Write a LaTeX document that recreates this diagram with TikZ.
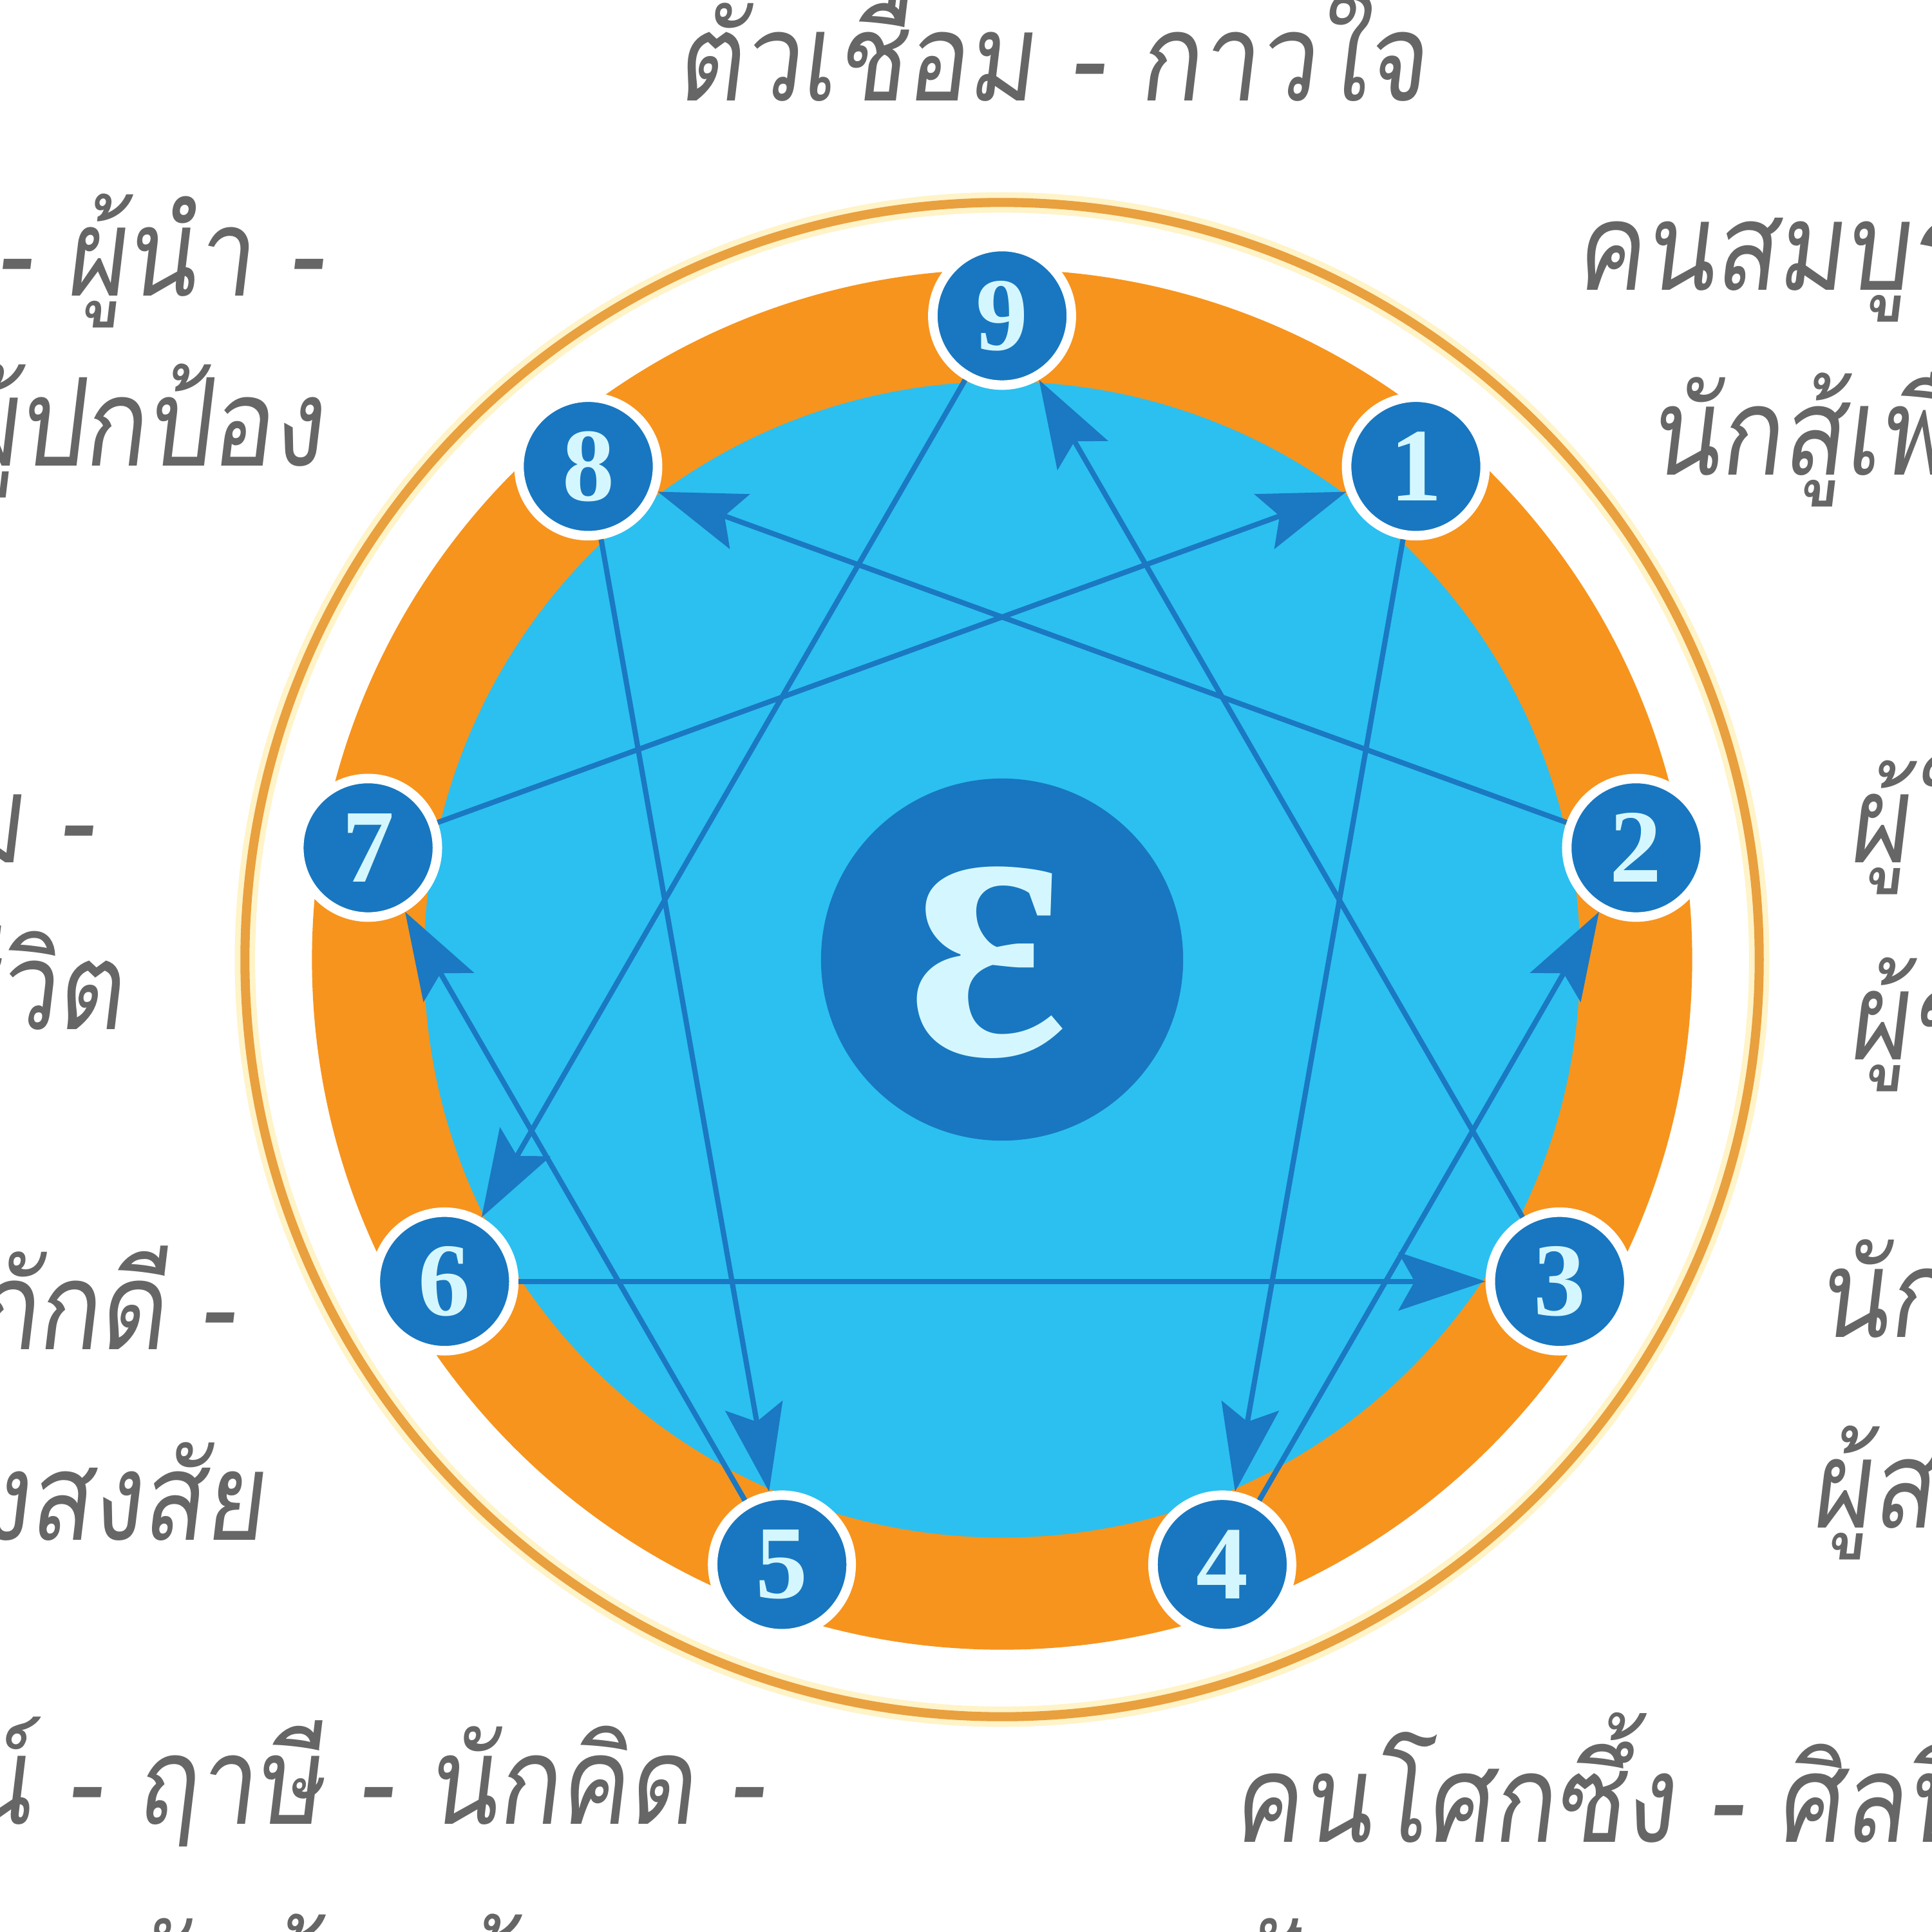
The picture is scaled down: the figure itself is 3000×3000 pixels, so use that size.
\documentclass[tikz,border=0pt]{standalone}
\usepackage{fontspec}
\newfontfamily\thaifont[Script=Thai,FakeSlant=0.12,FakeStretch=0.84]{Loma}
\newfontfamily\numfont{Liberation Serif}
\newfontfamily\epsfont[FakeSlant=-0.16]{Liberation Serif Bold Italic}
\usetikzlibrary{arrows.meta,calc}
\definecolor{ringorange}{HTML}{F7941D}
\definecolor{thinorange}{HTML}{E9A03E}
\definecolor{halo}{HTML}{FFF3C8}
\definecolor{discblue}{HTML}{2BC0F0}
\definecolor{deepblue}{HTML}{1877C0}
\definecolor{arrowblue}{HTML}{1B78C2}
\definecolor{digitcol}{HTML}{D4F7FF}
\definecolor{textgrey}{HTML}{666666}
\tikzset{
  numnode/.style={circle, fill=deepblue, draw=white, line width=4.2pt, minimum size=2.15cm, inner sep=0pt,
    text=digitcol, font=\numfont\bfseries\fontsize{46}{46}\selectfont},
  arr/.style={draw=arrowblue, line width=2.3pt, -{Stealth[length=1.35cm,width=0.9cm,inset=0.25cm]}},
  txt/.style={text=textgrey, inner sep=0pt, font=\thaifont\fontsize{54}{54}\selectfont},
}
\begin{document}
\begin{tikzpicture}[x=0.01cm,y=-0.01cm]
\useasboundingbox (0,0) rectangle (3000,3000);
\clip (0,0) rectangle (3000,3000);
\fill[white] (0,0) rectangle (3000,3000);
\coordinate (C) at (1556,1490);
% rings
\draw[halo, line width=9pt] (C) circle (11.75cm);
\draw[thinorange, line width=4pt] (C) circle (11.75cm);
\fill[ringorange] (C) circle (10.71cm);
\fill[discblue] (C) circle (8.97cm);
% nodes
\node[numnode] (n9) at ($(C)+(90:9.99cm)$) {9};
\node[numnode] (n1) at ($(C)+(50:9.99cm)$) {1};
\node[numnode] (n2) at ($(C)+(10:9.99cm)$) {2};
\node[numnode] (n3) at ($(C)+(-30:9.99cm)$) {3};
\node[numnode] (n4) at ($(C)+(-70:9.99cm)$) {4};
\node[numnode] (n5) at ($(C)+(-110:9.99cm)$) {5};
\node[numnode] (n6) at ($(C)+(-150:9.99cm)$) {6};
\node[numnode] (n7) at ($(C)+(170:9.99cm)$) {7};
\node[numnode] (n8) at ($(C)+(130:9.99cm)$) {8};
% center
\node[circle, fill=deepblue, minimum size=5.62cm, inner sep=0pt] (E) at (C) {};
\node[text=digitcol, inner sep=0pt, font=\epsfont\fontsize{176}{176}\selectfont] (Eps) at ($(C)+(0,5)$) {ε};
% connectors
\draw[arr] (n9) -- (n6);
\draw[arr] (n6) -- (n3);
\draw[arr] (n3) -- (n9);
\draw[arr] (n1) -- (n4);
\draw[arr] (n4) -- (n2);
\draw[arr] (n2) -- (n8);
\draw[arr] (n8) -- (n5);
\draw[arr] (n5) -- (n7);
\draw[arr] (n7) -- (n1);
% texts
\node[txt, anchor=base] (t9) at (1632,157) {ตัวเชื่อม - กาวใจ};
\node[txt, anchor=base east] (t8a) at (501,459) {ผู้ท้าทาย - ผู้นำ -};
\node[txt, anchor=base east] (t8b) at (501,723) {ผู้ปกป้อง};
\node[txt, anchor=base west] (t1a) at (2445,450) {คนสมบูรณ์แบบ -};
\node[txt, anchor=base west] (t1b) at (2560,737) {นักสู้เพื่อความถูกต้อง};
\node[txt, anchor=base east] (t7a) at (144,1339) {นักสุขนิยม -};
\node[txt, anchor=base east] (t7b) at (191,1598) {ผู้รักชีวิต};
\node[txt, anchor=base west] (t2a) at (2870,1339) {ผู้ให้ -};
\node[txt, anchor=base west] (t2b) at (2870,1645) {ผู้ช่วยเหลือ};
\node[txt, anchor=base east] (t6a) at (364,2095) {ผู้จงรักภักดี -};
\node[txt, anchor=base east] (t6b) at (411,2391) {ผู้ช่างสงสัย};
\node[txt, anchor=base west] (t3a) at (2822,2076) {นักแสดง -};
\node[txt, anchor=base west] (t3b) at (2812,2372) {ผู้สร้างความสำเร็จ};
\node[txt, anchor=base east] (t5a) at (1186,2832) {ผู้สังเกตการณ์ - ฤาษี - นักคิด -};
\node[txt, anchor=base west] (t5b) at (180,3130) {นักค้นคว้า};
\node[txt, anchor=base west] (t4a) at (1913,2860) {คนโศกซึ้ง - ศิลปิน -};
\node[txt, anchor=base west] (t4b) at (1913,3130) {ปัจเจกชน};
\end{tikzpicture}
\end{document}
